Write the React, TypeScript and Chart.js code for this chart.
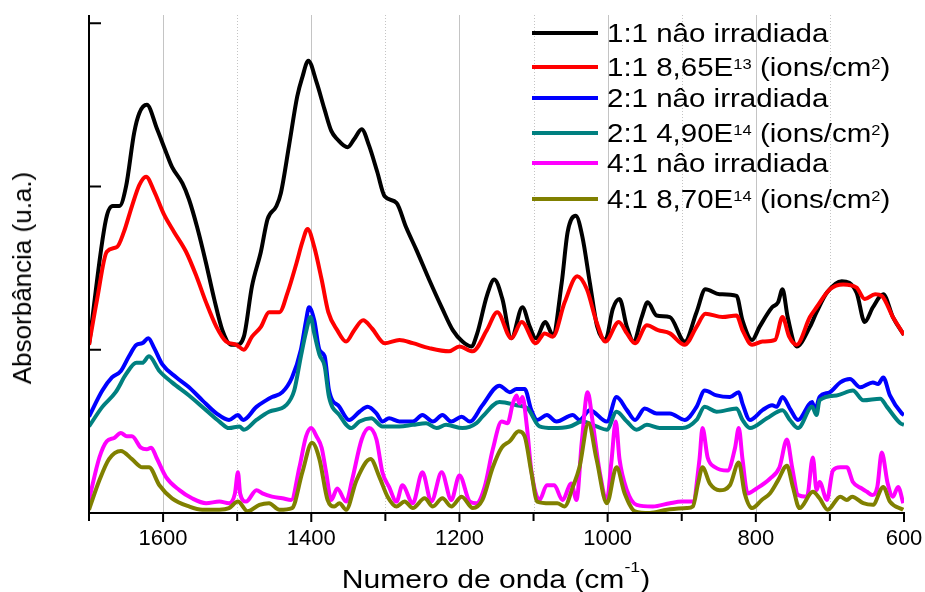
import React, { useEffect, useRef } from 'react';
import { Chart, registerables } from 'chart.js';

Chart.register(...registerables);

const FONT = "'Liberation Sans', Arial, Helvetica, sans-serif";

// ---- data (wavenumber in cm^-1, absorbance in a.u.) ----
const wnBlack = [1700,1677,1668,1659,1650,1639,1632,1622,1608,1596,1588,1574,1565,1554,1542,1531,1520,1508,1501,1491,1480,1468,1459,1447,1441,1430,1419,1412,1404,1393,1382,1373,1365,1351,1342,1332,1322,1311,1301,1285,1272,1258,1241,1223,1209,1196,1184,1176,1163,1153,1142,1130,1115,1105,1097,1084,1074,1062,1054,1043,1034,1024,1014,1003,993,984,974,965,954,946,934,916,896,880,868,849,826,818,805,795,778,770,764,757,745,727,718,704,684,664,653,642,628,615,600];
const absBlack = [1.03,1.80,1.88,1.88,2.00,2.33,2.45,2.50,2.35,2.21,2.12,2.02,1.92,1.75,1.53,1.31,1.12,1.03,1.03,1.08,1.39,1.60,1.80,1.88,1.96,2.25,2.55,2.67,2.77,2.64,2.47,2.34,2.29,2.24,2.29,2.35,2.25,2.09,1.94,1.90,1.75,1.61,1.43,1.25,1.12,1.05,1.02,1.10,1.33,1.43,1.31,1.07,1.26,1.14,1.07,1.17,1.09,1.41,1.72,1.82,1.69,1.41,1.14,1.06,1.25,1.31,1.14,1.05,1.20,1.29,1.21,1.20,1.05,1.23,1.37,1.34,1.33,1.18,1.06,1.14,1.26,1.29,1.37,1.20,1.02,1.14,1.23,1.35,1.42,1.35,1.17,1.26,1.34,1.20,1.09];

const wnRed = [1700,1689,1676,1662,1653,1642,1632,1623,1612,1599,1585,1569,1555,1542,1528,1515,1501,1491,1480,1468,1457,1443,1432,1420,1412,1405,1396,1386,1377,1365,1353,1342,1330,1318,1301,1281,1263,1241,1214,1200,1182,1163,1149,1130,1116,1097,1085,1074,1058,1041,1028,1015,1003,985,974,963,947,932,916,896,880,868,845,826,818,805,791,774,764,755,745,727,718,700,682,664,653,639,630,615,600];
const absRed = [1.03,1.31,1.60,1.63,1.72,1.88,2.01,2.06,1.97,1.83,1.72,1.60,1.45,1.29,1.14,1.05,1.03,1.00,1.08,1.14,1.23,1.23,1.35,1.53,1.66,1.74,1.63,1.43,1.23,1.12,1.05,1.12,1.18,1.13,1.04,1.06,1.04,1.01,0.99,1.02,0.99,1.12,1.23,1.07,1.17,1.04,1.10,1.08,1.29,1.45,1.37,1.17,1.05,1.17,1.10,1.04,1.15,1.12,1.10,1.03,1.14,1.22,1.20,1.21,1.12,1.03,1.05,1.06,1.20,1.08,1.03,1.20,1.26,1.37,1.40,1.38,1.31,1.34,1.33,1.20,1.09];

const wnBlue = [1700,1682,1669,1657,1646,1636,1628,1620,1612,1601,1582,1565,1547,1528,1511,1499,1492,1474,1461,1453,1439,1426,1414,1407,1403,1396,1389,1382,1376,1362,1349,1335,1324,1312,1304,1295,1281,1263,1250,1236,1223,1211,1197,1186,1169,1146,1132,1123,1112,1103,1095,1082,1069,1047,1038,1024,1001,988,974,963,950,934,916,896,880,869,853,835,823,818,808,791,778,772,764,754,743,724,720,714,700,686,673,659,642,635,628,619,603,600];
const absBlue = [0.59,0.75,0.83,0.87,0.96,1.03,1.04,1.07,1.01,0.91,0.83,0.77,0.69,0.61,0.57,0.60,0.57,0.65,0.69,0.71,0.74,0.83,1.00,1.18,1.26,1.18,1.00,0.96,0.75,0.65,0.57,0.62,0.65,0.61,0.56,0.58,0.56,0.56,0.60,0.56,0.60,0.56,0.59,0.56,0.66,0.78,0.74,0.76,0.76,0.63,0.57,0.60,0.56,0.60,0.57,0.63,0.56,0.71,0.63,0.57,0.64,0.61,0.61,0.57,0.65,0.75,0.72,0.71,0.74,0.67,0.57,0.63,0.66,0.65,0.71,0.64,0.57,0.68,0.63,0.71,0.74,0.80,0.82,0.77,0.80,0.79,0.83,0.72,0.61,0.60];

const wnTeal = [1700,1682,1664,1650,1636,1628,1619,1605,1588,1565,1542,1524,1511,1497,1491,1474,1457,1434,1423,1414,1407,1401,1396,1389,1382,1376,1362,1346,1335,1319,1304,1281,1263,1245,1231,1218,1196,1177,1169,1146,1123,1108,1092,1074,1051,1034,1015,1001,988,974,961,947,930,899,880,869,853,826,818,808,785,764,754,743,724,718,714,691,669,655,632,623,605,600];
const absTeal = [0.53,0.65,0.74,0.85,0.92,0.92,0.96,0.87,0.80,0.72,0.63,0.56,0.52,0.53,0.51,0.57,0.62,0.66,0.75,0.96,1.11,1.20,1.10,0.97,0.90,0.71,0.60,0.52,0.56,0.58,0.53,0.53,0.54,0.55,0.52,0.54,0.52,0.55,0.59,0.68,0.66,0.64,0.53,0.52,0.53,0.56,0.53,0.51,0.62,0.56,0.51,0.54,0.52,0.52,0.57,0.65,0.62,0.64,0.57,0.52,0.58,0.63,0.57,0.52,0.65,0.60,0.69,0.72,0.75,0.69,0.70,0.65,0.55,0.54];

const wnMagenta = [1700,1686,1676,1666,1657,1649,1642,1630,1622,1616,1609,1596,1578,1561,1542,1524,1511,1503,1499,1496,1488,1474,1466,1453,1439,1427,1416,1407,1400,1393,1386,1380,1373,1365,1353,1345,1332,1322,1312,1304,1295,1285,1277,1263,1250,1238,1224,1211,1200,1186,1177,1166,1155,1143,1135,1128,1123,1119,1115,1109,1103,1092,1082,1072,1061,1049,1042,1035,1027,1020,1011,1001,995,989,984,974,961,939,916,900,885,876,872,865,855,838,828,823,818,811,799,781,768,758,751,743,731,723,718,714,704,696,686,677,669,657,650,643,636,630,622,615,608,601];
const absMagenta = [0.08,0.34,0.44,0.46,0.49,0.47,0.47,0.40,0.39,0.40,0.34,0.22,0.14,0.09,0.06,0.07,0.06,0.12,0.25,0.12,0.07,0.14,0.12,0.10,0.09,0.08,0.28,0.47,0.52,0.47,0.40,0.25,0.08,0.15,0.07,0.20,0.45,0.52,0.45,0.25,0.16,0.07,0.17,0.06,0.25,0.07,0.25,0.08,0.23,0.07,0.06,0.16,0.39,0.56,0.55,0.67,0.72,0.67,0.71,0.53,0.26,0.08,0.17,0.17,0.08,0.18,0.08,0.43,0.74,0.55,0.26,0.08,0.31,0.56,0.33,0.14,0.05,0.04,0.06,0.07,0.07,0.33,0.52,0.34,0.28,0.26,0.40,0.52,0.33,0.12,0.15,0.21,0.28,0.45,0.28,0.11,0.10,0.34,0.14,0.19,0.08,0.26,0.28,0.28,0.19,0.15,0.13,0.11,0.16,0.37,0.18,0.10,0.16,0.06];

const wnOlive = [1700,1686,1673,1657,1642,1628,1619,1605,1588,1565,1547,1524,1511,1499,1486,1470,1457,1443,1426,1412,1399,1389,1378,1369,1362,1353,1339,1320,1308,1297,1285,1274,1263,1247,1236,1223,1211,1197,1182,1169,1155,1143,1132,1120,1112,1103,1095,1078,1068,1058,1047,1038,1026,1015,1001,988,977,963,943,920,893,885,878,872,862,849,835,823,815,805,792,781,770,758,750,741,723,714,703,686,677,670,655,642,628,619,601];
const absOlive = [0.02,0.20,0.33,0.38,0.33,0.28,0.28,0.17,0.09,0.04,0.02,0.02,0.03,0.07,0.01,0.05,0.06,0.02,0.03,0.25,0.43,0.33,0.08,0.04,0.06,0.02,0.20,0.33,0.22,0.10,0.04,0.07,0.03,0.09,0.04,0.09,0.04,0.10,0.03,0.08,0.28,0.40,0.44,0.50,0.47,0.25,0.07,0.06,0.06,0.04,0.16,0.28,0.55,0.33,0.06,0.28,0.12,0.01,0.00,0.02,0.03,0.04,0.18,0.28,0.18,0.14,0.17,0.31,0.12,0.03,0.08,0.12,0.20,0.29,0.16,0.03,0.13,0.09,0.02,0.10,0.08,0.10,0.06,0.05,0.16,0.07,0.02];

const seriesLabels = [
  '1:1 nâo irradiada',
  '1:1 8,65E13 (ions/cm2)',
  '2:1 nâo irradiada',
  '2:1 4,90E14 (ions/cm2)',
  '4:1 nâo irradiada',
  '4:1 8,70E14 (ions/cm2)',
];
const seriesColors = ['#000000', '#ff0000', '#0000ff', '#008080', '#ff00ff', '#808000'];
const seriesX = [wnBlack, wnRed, wnBlue, wnTeal, wnMagenta, wnOlive];
const seriesY = [absBlack, absRed, absBlue, absTeal, absMagenta, absOlive];

const xTickValues = [1600, 1400, 1200, 1000, 800, 600];
const xMinorValues = [1700, 1500, 1300, 1100, 900, 700];
const yTickValues = [0, 1, 2, 3];

function pairs(xs: number[], ys: number[]) {
  const n = Math.min(xs.length, ys.length);
  return Array.from({ length: n }, (_, i) => ({ x: xs[i], y: ys[i] }));
}

const axesPlugin = {
  id: 'customAxes',
  beforeDatasetsDraw(chart: any) {
    const { ctx, chartArea, scales } = chart;
    const { top, bottom } = chartArea;
    const x = scales.x;
    ctx.save();
    ctx.strokeStyle = '#c4c4c4';
    ctx.lineWidth = 1;
    for (const v of xTickValues) {
      if (v === 600) continue;
      const px = Math.round(x.getPixelForValue(v)) + 0.5;
      ctx.beginPath();
      ctx.moveTo(px, top);
      ctx.lineTo(px, bottom);
      ctx.stroke();
    }
    ctx.setLineDash([1, 2]);
    for (const v of xMinorValues) {
      if (v === 1700) continue;
      const px = Math.round(x.getPixelForValue(v)) + 0.5;
      ctx.beginPath();
      ctx.moveTo(px, top);
      ctx.lineTo(px, bottom);
      ctx.stroke();
    }
    ctx.restore();
  },
  afterDatasetsDraw(chart: any) {
    const { ctx, chartArea, scales } = chart;
    const { left, right, top, bottom } = chartArea;
    const x = scales.x;
    const y = scales.y;
    ctx.save();
    ctx.strokeStyle = '#000';
    ctx.lineWidth = 2;
    ctx.lineCap = 'butt';
    ctx.beginPath();
    ctx.moveTo(left, top);
    ctx.lineTo(left, bottom + 1);
    ctx.moveTo(left - 1, bottom);
    ctx.lineTo(right + 1, bottom);
    ctx.stroke();
    ctx.beginPath();
    for (const v of yTickValues) {
      const py = y.getPixelForValue(v);
      ctx.moveTo(left, py);
      ctx.lineTo(left + 12, py);
    }
    ctx.stroke();
    ctx.beginPath();
    for (const v of xTickValues) {
      const px = x.getPixelForValue(v);
      ctx.moveTo(px, bottom);
      ctx.lineTo(px, bottom + 9);
    }
    for (const v of xMinorValues) {
      const px = x.getPixelForValue(v);
      ctx.moveTo(px, bottom);
      ctx.lineTo(px, bottom + 8);
    }
    ctx.stroke();
    ctx.restore();
  },
};

const legendRowsY = [33, 67, 98, 133, 163, 199];

function Sup({ children, size, raise }: { children: any; size: number; raise: number }) {
  return (
    <span style={{ fontSize: size, position: 'relative', top: -raise, lineHeight: 0 }}>{children}</span>
  );
}

function legendContent(i: number) {
  const label = seriesLabels[i];
  const m = label.match(/^(.*E)(\d+) \(ions\/cm(\d)\)$/);
  if (!m) return label;
  return (
    <>
      {m[1]}
      <Sup size={14} raise={7}>{m[2]}</Sup>
      {' (ions/cm'}
      <Sup size={14} raise={7}>{m[3]}</Sup>
      {')'}
    </>
  );
}

export default function App() {
  const ref = useRef<HTMLCanvasElement>(null);

  useEffect(() => {
    if (!ref.current) return;
    const datasets = seriesLabels.map((label, i) => ({
      label,
      data: pairs(seriesX[i], seriesY[i]),
      borderColor: seriesColors[i],
      backgroundColor: seriesColors[i],
      borderWidth: 4,
      pointRadius: 0,
      fill: false,
      cubicInterpolationMode: 'monotone' as const,
      order: seriesLabels.length - i,
    }));
    const chart = new Chart(ref.current, {
      type: 'line',
      data: { datasets },
      options: {
        animation: false,
        responsive: false,
        devicePixelRatio: 1,
        events: [],
        layout: { padding: { left: 0, right: 21, top: 15, bottom: 0 } },
        plugins: { legend: { display: false }, tooltip: { enabled: false }, title: { display: false } },
        scales: {
          x: {
            type: 'linear',
            reverse: true,
            min: 600,
            max: 1700,
            afterBuildTicks: (s: any) => {
              s.ticks = xTickValues.map((v) => ({ value: v }));
            },
            afterFit: (s: any) => {
              s.height = 79;
              s.paddingLeft = 0;
              s.paddingRight = 0;
            },
            grid: { display: false, drawTicks: false },
            border: { display: false },
            ticks: {
              font: { family: FONT, size: 22 },
              color: '#000',
              padding: 13,
              maxRotation: 0,
              autoSkip: false,
              callback: (v: any) => String(v),
            },
          },
          y: {
            type: 'linear',
            min: 0,
            max: 3.05,
            afterFit: (s: any) => {
              s.width = 89;
              s.paddingTop = 0;
              s.paddingBottom = 0;
            },
            ticks: { display: false },
            grid: { display: false, drawTicks: false },
            border: { display: false },
          },
        },
      },
      plugins: [axesPlugin],
    } as any);
    return () => chart.destroy();
  }, []);

  return (
    <div
      style={{
        position: 'absolute',
        left: 0,
        top: 0,
        width: 925,
        height: 592,
        background: '#fff',
        fontFamily: FONT,
        color: '#000',
        overflow: 'hidden',
      }}
    >
      <canvas
        ref={ref}
        width={925}
        height={592}
        style={{ position: 'absolute', left: 0, top: 0, width: 925, height: 592 }}
      />
      {seriesLabels.map((_, i) => (
        <React.Fragment key={i}>
          <div
            style={{
              position: 'absolute',
              left: 532,
              top: legendRowsY[i] - 1.75,
              width: 66,
              height: 3.5,
              background: seriesColors[i],
            }}
          />
          <div
            style={{
              position: 'absolute',
              left: 607,
              top: legendRowsY[i] - 12.2,
              fontSize: 25,
              lineHeight: '25px',
              whiteSpace: 'nowrap',
              transform: 'scaleX(1.18)',
              transformOrigin: 'left center',
            }}
          >
            {legendContent(i)}
          </div>
        </React.Fragment>
      ))}
      <div
        style={{
          position: 'absolute',
          left: 496,
          top: 567.4,
          fontSize: 25.5,
          lineHeight: '25.5px',
          whiteSpace: 'nowrap',
          transform: 'translateX(-50%) scaleX(1.18)',
        }}
      >
        Numero de onda (cm<Sup size={15} raise={16}>-1</Sup>)
      </div>
      <div
        style={{
          position: 'absolute',
          left: 22,
          top: 278,
          fontSize: 26,
          lineHeight: '26px',
          whiteSpace: 'nowrap',
          transform: 'translate(-50%, -50%) rotate(-90deg)',
        }}
      >
        Absorbância (u.a.)
      </div>
    </div>
  );
}
